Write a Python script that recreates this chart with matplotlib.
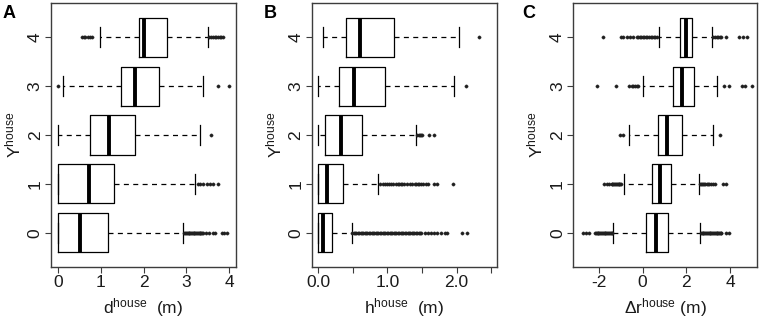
import matplotlib
matplotlib.use("Agg")
import matplotlib.pyplot as plt

plt.rcParams['font.family'] = ['Liberation Sans', 'DejaVu Sans']
plt.rcParams['mathtext.fontset'] = 'custom'
plt.rcParams['mathtext.rm'] = 'Liberation Sans'
plt.rcParams['mathtext.it'] = 'Liberation Sans'

categories = [0, 1, 2, 3, 4]

# ---------- Panel A: d_house ----------
a_q1 = [0.00, 0.00, 0.75, 1.47, 1.89]
a_med = [0.52, 0.72, 1.20, 1.81, 2.00]
a_q3 = [1.16, 1.31, 1.79, 2.35, 2.54]
a_wlo = [0.00, 0.00, 0.00, 0.12, 0.98]
a_whi = [2.93, 3.21, 3.32, 3.40, 3.50]
a_fliers = [
    [2.95, 2.97, 2.99, 3.01, 3.03, 3.05, 3.07, 3.09, 3.11, 3.13, 3.15, 3.17,
     3.19, 3.21, 3.23, 3.25, 3.27, 3.29, 3.31, 3.33, 3.35, 3.37, 3.40,
     3.46, 3.54, 3.62, 3.67, 3.83, 3.89, 3.95],
    [3.27, 3.31, 3.40, 3.48, 3.56, 3.63, 3.73],
    [3.57],
    [0.00, 3.75, 4.00],
    [0.55, 0.60, 0.64, 0.70, 0.75, 0.80,
     3.54, 3.58, 3.62, 3.66, 3.70, 3.74, 3.78, 3.82, 3.86],
]

# ---------- Panel B: h_house ----------
b_q1 = [0.00, 0.00, 0.09, 0.30, 0.40]
b_med = [0.07, 0.13, 0.32, 0.51, 0.60]
b_q3 = [0.20, 0.35, 0.63, 0.97, 1.10]
b_wlo = [0.00, 0.00, 0.00, 0.00, 0.06]
b_whi = [0.48, 0.87, 1.415, 1.96, 2.04]
b_fliers = [
    [0.49, 0.51, 0.53, 0.55, 0.57, 0.59, 0.61, 0.63, 0.65, 0.67, 0.69, 0.71,
     0.73, 0.75, 0.77, 0.79, 0.81, 0.83, 0.85, 0.87, 0.89, 0.91, 0.93, 0.95,
     0.97, 0.99, 1.01, 1.03, 1.05, 1.07, 1.09, 1.11, 1.13, 1.15, 1.17, 1.19,
     1.21, 1.23, 1.25, 1.27, 1.29, 1.31, 1.33, 1.35, 1.37, 1.39, 1.41, 1.43,
     1.45, 1.47, 1.49, 1.55, 1.59, 1.63, 1.67, 1.72, 1.78, 1.83, 1.86,
     2.08, 2.15],
    [0.89, 0.93, 0.97, 1.00, 1.02, 1.05, 1.08, 1.12, 1.15, 1.17, 1.19, 1.21,
     1.24, 1.28, 1.32, 1.36, 1.40, 1.42, 1.44, 1.46, 1.48, 1.52, 1.56, 1.59,
     1.67, 1.72, 1.95],
    [1.43, 1.45, 1.47, 1.49, 1.50, 1.60, 1.68],
    [2.14],
    [2.33],
]

# ---------- Panel C: delta r_house ----------
c_q1 = [0.14, 0.44, 0.72, 1.40, 1.70]
c_med = [0.61, 0.79, 1.13, 1.78, 1.98]
c_q3 = [1.14, 1.28, 1.78, 2.36, 2.24]
c_wlo = [-1.34, -0.85, -0.62, 0.03, 0.74]
c_whi = [2.62, 2.57, 3.22, 3.38, 3.15]
c_fliers = [
    [-2.74, -2.59, -2.44, -2.18, -2.14, -2.10, -2.06, -2.02, -1.98, -1.94,
     -1.90, -1.86, -1.82, -1.78, -1.74, -1.70, -1.66, -1.62, -1.58, -1.54,
     -1.50, -1.46, -1.42, -1.38,
     2.66, 2.70, 2.74, 2.78, 2.82, 2.86, 2.90, 2.94, 2.98, 3.02, 3.06, 3.10,
     3.14, 3.18, 3.22, 3.26, 3.30, 3.34, 3.38, 3.42, 3.46, 3.50, 3.54, 3.58,
     3.60, 3.79, 3.94],
    [-1.75, -1.64, -1.52, -1.42, -1.38, -1.34, -1.30, -1.26, -1.22, -1.18,
     -1.14, -1.10, -1.06, -1.02, -0.98,
     2.62, 2.66, 2.70, 2.74, 2.80, 2.86, 2.92, 2.98, 3.05, 3.12, 3.20, 3.30,
     3.68, 3.80],
    [-1.04, -0.89, 3.53],
    [-2.07, -1.23, -0.61, -0.50, -0.42, -0.35, -0.28, -0.20,
     3.73, 3.94, 4.52, 4.70, 4.98],
    [-1.80, -1.00, -0.89, -0.73, -0.58, -0.43, -0.27, -0.20, -0.13, -0.06,
     0.01, 0.08, 0.15, 0.22, 0.29, 0.36, 0.43, 0.50, 0.57, 0.64,
     3.22, 3.30, 3.38, 3.45, 3.52, 3.60, 3.83, 4.40, 4.57, 4.79],
]

panels = [
    dict(letter='A', q1=a_q1, med=a_med, q3=a_q3, wlo=a_wlo, whi=a_whi, fl=a_fliers,
         xlim=(-0.164, 4.16), ticks=[0, 1, 2, 3, 4], ticklabels=['0', '1', '2', '3', '4'],
         xlabel=r'd$^{\mathregular{house}}$  (m)', lx=48),
    dict(letter='B', q1=b_q1, med=b_med, q3=b_q3, wlo=b_wlo, whi=b_whi, fl=b_fliers,
         xlim=(-0.097, 2.59), ticks=[0, 0.5, 1.0, 1.5, 2.0, 2.5],
         ticklabels=['0.0', '', '1.0', '', '2.0', ''],
         xlabel=r'h$^{\mathregular{house}}$  (m)', lx=48),
    dict(letter='C', q1=c_q1, med=c_med, q3=c_q3, wlo=c_wlo, whi=c_whi, fl=c_fliers,
         xlim=(-3.17, 5.24), ticks=[-2, 0, 2, 4], ticklabels=['-2', '0', '2', '4'],
         xlabel='Δr$^{\\mathregular{house}}$ (m)', lx=51),
]

W, H = 761, 322
fig = plt.figure(figsize=(W / 100, H / 100), dpi=100)
lefts = [51, 311.7, 573.3]
widths = [185, 185.6, 184]
top, bottom = 3, 267
frame_col = '#3c3c3c'
text_col = '#1a1a1a'

for p, L, Wd in zip(panels, lefts, widths):
    ax = fig.add_axes([L / W, (H - bottom) / H, Wd / W, (bottom - top) / H])
    stats = []
    for i in range(len(categories)):
        stats.append(dict(q1=p['q1'][i], med=p['med'][i], q3=p['q3'][i],
                          whislo=p['wlo'][i], whishi=p['whi'][i],
                          fliers=p['fl'][i], label=str(categories[i])))
    ax.bxp(stats, positions=categories, vert=False, widths=0.8,
           capwidths=0.4, showfliers=True,
           boxprops=dict(color='black', linewidth=0.9),
           medianprops=dict(color='black', linewidth=2.8, solid_capstyle='butt'),
           whiskerprops=dict(color='black', linewidth=0.9, linestyle=(0, (4, 3.5))),
           capprops=dict(color='black', linewidth=0.9),
           flierprops=dict(marker='o', markersize=2.4, markerfacecolor='#202020',
                           markeredgecolor='#202020', markeredgewidth=0.2,
                           linestyle='none'))
    ax.set_xlim(*p['xlim'])
    ax.set_ylim(-0.7, 4.7)
    ax.set_xticks(p['ticks'])
    ax.set_xticklabels(p['ticklabels'])
    ax.set_yticks(categories)
    ax.set_yticklabels([str(c) for c in categories], rotation=90, va='center')
    ax.tick_params(axis='both', length=4, width=0.8, color=frame_col,
                   labelsize=12.5, labelcolor=text_col, pad=2)
    for s in ax.spines.values():
        s.set_color(frame_col)
        s.set_linewidth(1.0)
    ax.set_xlabel(p['xlabel'], fontsize=12.5, color=text_col, labelpad=4)
    ax.set_ylabel(r'Y$^{\mathregular{house}}$', fontsize=12.5, color=text_col, labelpad=3)
    fig.text((L - p['lx']) / W, 1 - 14 / H, p['letter'], fontsize=13, fontweight='bold',
             color='black', ha='left', va='center')

fig.savefig('out.png', dpi=100)
